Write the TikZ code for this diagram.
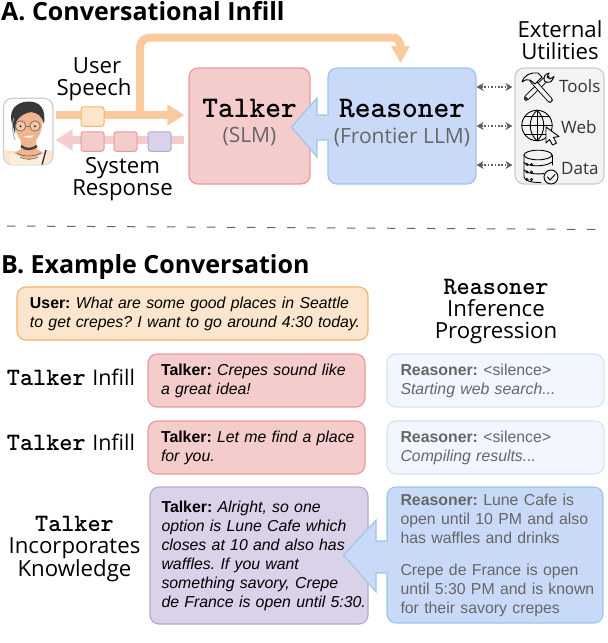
\documentclass[tikz,border=0pt]{standalone}
\usepackage{fontspec}
\setmainfont{Open Sans}
\newfontfamily\arialf{Liberation Sans}
\usetikzlibrary{arrows.meta,calc}
\definecolor{pinkfill}{HTML}{F4CCCC}
\definecolor{pinkline}{HTML}{EA9999}
\definecolor{bluefill}{HTML}{C9DAF8}
\definecolor{blueline}{HTML}{9FC5E8}
\definecolor{orangefill}{HTML}{FCE5CD}
\definecolor{orangeline}{HTML}{F6B26B}
\definecolor{orangearrow}{HTML}{F9CB9C}
\definecolor{purplefill}{HTML}{D9D2E9}
\definecolor{purpleline}{HTML}{B4A7D6}
\definecolor{palefill}{HTML}{F2F6FE}
\definecolor{paleline}{HTML}{D3E4F5}
\definecolor{utilfill}{HTML}{F3F3F3}
\definecolor{utilline}{HTML}{CCCCCC}
\definecolor{graytext}{HTML}{666666}
\definecolor{toolarrow}{HTML}{5F5F5F}
\definecolor{skin}{HTML}{F2B48C}
\frenchspacing
\newcommand{\monobig}[1]{{\ttfamily\bfseries\fontsize{30}{30}\selectfont #1}}
\newcommand{\monomid}[1]{{\ttfamily\bfseries\fontsize{25}{22}\selectfont #1}}
% one fixed line of message text; the box width never rewraps it
\newcommand{\msgline}[1]{\leavevmode\rlap{#1}}
\tikzset{
  x=1pt,y=-1pt,
  heading/.style={anchor=base west,inner sep=0pt,font=\bfseries\fontsize{25}{28}\selectfont},
  label/.style={align=center,inner sep=0pt,font=\fontsize{22.2}{22}\selectfont},
  bigbox/.style={draw,line width=1.2pt,rounded corners=9pt,inner sep=0pt,minimum height=116pt,align=center},
  talkerbox/.style={bigbox,fill=pinkfill,draw=pinkline,minimum width=121pt},
  reasonerbox/.style={bigbox,fill=bluefill,draw=blueline,minimum width=148pt},
  chip/.style={draw,line width=1pt,rounded corners=2.5pt,minimum width=23pt,minimum height=19.5pt,inner sep=0pt},
  say/.style={draw,line width=1.1pt,rounded corners=9pt,inner sep=0pt,align=left,
    font=\arialf\fontsize{15.85}{19}\selectfont},
  talksay/.style={say,fill=pinkfill,draw=pinkline,minimum width=217pt,minimum height=53pt,text width=191pt},
  palesay/.style={say,fill=palefill,draw=paleline,text=graytext,minimum width=217pt,minimum height=53pt,text width=190pt},
  toolarrowline/.style={{Stealth[length=7pt,width=8pt]}-{Stealth[length=7pt,width=8pt]},
    draw=toolarrow,line width=1.1pt,dash pattern=on 1.6pt off 1.8pt},
  icon/.style={line width=.9pt,draw=black,line cap=round,line join=round},
  utillabel/.style={anchor=west,inner sep=0pt,text=black!80,font=\fontsize{17}{18}\selectfont},
  subtitle/.style={inner sep=0pt,text=graytext,font=\fontsize{21}{22}\selectfont},
}
\begin{document}
\begin{tikzpicture}
\useasboundingbox (0,0) rectangle (608,643);

% section headings
\node[heading] (headA) at (1,20) {A. Conversational Infill};
\node[heading] (headB) at (1,273) {B. Example Conversation};

% main boxes
\node[talkerbox] (talker) at (249.5,126) {};
\node[inner sep=0pt] (talkername) at (249.5,108.5) {\monobig{Talker}};
\node[subtitle] (talkersub) at (249.5,137) {(SLM)};
\node[reasonerbox] (reasoner) at (402,126) {};

% avatar frame and portrait
\node[draw=utilline,line width=1.2pt,fill=white,rounded corners=9pt,minimum width=49.5pt,minimum height=66.5pt,inner sep=0pt] (avatar) at (28.2,131.5) {};
\begin{scope}
  \clip[rounded corners=8.5pt] (4,98.5) rectangle (52.5,164.5);
  \fill[orangefill] (4,150) .. controls (16,152) and (40,152) .. (52.5,150) -- (52.5,165) -- (4,165) -- cycle;
  \fill[orangefill!70!white] (10,154) -- (47,154) -- (47,165) -- (10,165) -- cycle;
  \fill[skin] (21,140) -- (36,140) -- (37,149) -- (43,153) -- (29,160) -- (14,153) -- (21,149) -- cycle;
  \draw[black!70,line width=.5pt] (17,153) .. controls (22,157) and (35,157) .. (41,153);
  \draw[black!70,line width=.5pt] (20,157) .. controls (25,160) and (33,160) .. (38,157);
  \fill[skin] (14,118) .. controls (14,132) and (20,144) .. (28,144) .. controls (37,144) and (43,132) .. (43,116) -- (38,108) -- (18,110) -- cycle;
  \fill[black!78] (13,126) .. controls (7,112) and (15,102) .. (28,101.5) .. controls (40,101.5) and (46,108) .. (44,124) .. controls (42,116) and (38,113) .. (31,112) .. controls (25,113) and (19,116) .. (16,122) -- (15,134) -- cycle;
  \draw[black!35,line width=.8pt] (14,118) .. controls (11,126) and (13,134) .. (15,140);
  \draw[black!75,line width=2.4pt] (21,146) .. controls (25,150) and (32,150) .. (37,146);
  \draw[black!55,line width=.8pt,fill=white,fill opacity=.25] (20.5,126) circle (5.2pt) (35,126) circle (5.2pt);
  \draw[black!55,line width=.8pt] (25.7,126) -- (29.8,126);
  \fill[black!80] (20.5,126.3) circle (1.1pt) (35,126.3) circle (1.1pt);
  \fill[white] (23,136) .. controls (27,138.5) and (31,138.5) .. (34,135.5) .. controls (31,135.5) and (27,136.5) .. cycle;
  \draw[black!80,line width=1.4pt] (46,150) -- (42,165);
\end{scope}

% user speech path and its branch to the reasoner
\coordinate (speechy) at (0,115);
\coordinate (replyy) at (0,140);
\coordinate (branch) at (140,115);
\coordinate (reasonertop) at (400.5,63);
\draw[orangearrow,line width=8pt,rounded corners=10pt] (branch) -- (140,37.5) -- (392,37.5);
\draw[orangearrow,line width=8pt] (392,37.5) .. controls (397,37.5) and (400.5,41) .. (400.5,47);
\fill[orangearrow] (reasonertop) -- (391,46) -- (410,46) -- cycle;
\draw[orangearrow,line width=8pt,-{Triangle[length=17pt,width=20pt]}] ([xshift=2pt]avatar.east |- speechy) -- ([xshift=-4pt]talker.west |- speechy);
\draw[pinkfill,line width=8pt,-{Triangle[length=17pt,width=20pt]}] ([xshift=-4pt]talker.west |- replyy) -- ([xshift=2pt]avatar.east |- replyy);

% message chips on the two paths
\node[chip,fill=orangefill,draw=orangeline] (chipuser) at (92.5,116.5) {};
\node[chip,fill=pinkfill,draw=pinkline] (chipa) at (92.5,141.5) {};
\node[chip,fill=pinkfill,draw=pinkline] (chipb) at (125.5,141.5) {};
\node[chip,fill=purplefill,draw=purpleline] (chipc) at (159.5,141.5) {};

\node[label] (userspeech) at (94,79) {\hspace*{6pt}User\\Speech};
\node[label] (sysresp) at (122.5,179.5) {System\\Response};

% reasoner feeds knowledge back to the talker
\coordinate (fbtip) at (291.5,127);
\filldraw[fill=bluefill,draw=blueline,line width=1.2pt,line join=miter]
  (reasoner.west |- 0,115) -- (317,115) -- (317,98) -- (fbtip) -- (317,157) -- (317,140) -- (reasoner.west |- 0,140);
\fill[bluefill] ([xshift=-1pt]reasoner.west |- 0,115.6) rectangle ([xshift=1.2pt]reasoner.west |- 0,139.4);
\node[inner sep=0pt] (reasonername) at (402,108.5) {\monobig{Reasoner}};
\node[subtitle] (reasonersub) at (402,137) {(Frontier LLM)};

% external utilities panel
\node[label] (exthead) at (560,40.5) {External\\Utilities};
\node[draw=utilline,fill=utilfill,line width=1.2pt,rounded corners=9pt,minimum width=89pt,minimum height=116pt,inner sep=0pt] (utils) at (559.5,126) {};
\draw[toolarrowline] (reasoner.east |- 0,87) -- ([xshift=-2pt]utils.west |- 0,87);
\draw[toolarrowline] (reasoner.east |- 0,126) -- ([xshift=-2pt]utils.west |- 0,126);
\draw[toolarrowline] (reasoner.east |- 0,165) -- ([xshift=-2pt]utils.west |- 0,165);

% tools icon: crossed hammer and spanner
\begin{scope}[line cap=round]
  \draw[black,line width=5.6pt] (527,97.5) -- (547,78);
  \draw[utilfill,line width=3.8pt] (527,97.5) -- (547,78);
  \draw[icon,fill=utilfill] (549,73) .. controls (545,74) and (543,77) .. (544.5,81) .. controls (547,83) and (551,83) .. (553,79) -- (554,76.5) -- (550,79) -- (547,77) -- cycle;
  \draw[icon,fill=utilfill] (526,99) circle (1.5pt);
  \draw[black,line width=5.6pt] (550,100) -- (532,80);
  \draw[utilfill,line width=3.8pt] (550,100) -- (532,80);
  \draw[icon,fill=utilfill] (522,82) .. controls (524,75) and (531,72) .. (538,73) -- (542,77) -- (535,84) -- (530,80) .. controls (527,79) and (524,80) .. (522,82) -- cycle;
\end{scope}
\node[utillabel] (toolstext) at (559,86) {Tools};

% web icon: globe with pointer
\draw[icon] (537,125.5) circle (15.2pt);
\draw[icon] (537,110.3) .. controls (528,118) and (528,133) .. (537,140.7);
\draw[icon] (537,110.3) .. controls (546,118) and (546,133) .. (537,140.7);
\draw[icon] (537,110.3) -- (537,140.7);
\draw[icon] (522,125.5) -- (552,125.5);
\draw[icon] (525,116.5) -- (549,116.5);
\draw[icon] (525,134.5) -- (546,134.5);
\draw[icon,fill=utilfill] (546,127) -- (559,136.5) -- (553.5,137.5) -- (556.5,143) -- (552.5,145) -- (549.5,139.5) -- (546,143) -- cycle;
\node[utillabel] (webtext) at (561,127) {Web};

% data icon: database cylinder with check badge
\draw[icon] (538,155) ellipse (14pt and 4.8pt);
\draw[icon] (524,155) -- (524,177) .. controls (525,181) and (531,182.5) .. (541,182.5);
\draw[icon] (552,155) -- (552,165);
\draw[icon] (524,162.5) .. controls (528,167) and (546,167) .. (552,162);
\draw[icon] (524,170) .. controls (528,174) and (537,174.5) .. (544,173.5);
\foreach \dy in {164.5,172,179.5} {
  \draw[line width=.8pt] (527,\dy) circle (1.1pt) (531.5,\dy) circle (1.1pt);
}
\draw[icon,fill=utilfill] (551,177) circle (7pt);
\draw[icon] (547.5,177) -- (550,180) -- (555,174.5);
\node[utillabel] (datatext) at (561,169) {Data};

% section divider
\coordinate (divl) at (7,226);
\coordinate (divr) at (604,229.5);
\draw[black!60,line width=1pt,dash pattern=on 8.5pt off 11.5pt] (divl) -- (divr);

% example conversation
\node[say,fill=orangefill,draw=orangeline,minimum width=351pt,minimum height=53pt,text width=325pt] (usermsg) at (192.5,313.5)
  {\msgline{\textbf{User:} \textit{What are some good places in Seattle}}\\\msgline{\textit{to get crepes? I want to go around 4:30 today.}}};
\node[talksay] (talkone) at (256.5,380.5)
  {\msgline{\textbf{Talker:} \textit{Crepes sound like}}\\\msgline{\textit{a great idea!}}};
\node[talksay] (talktwo) at (256.5,447.5)
  {\msgline{\textbf{Talker:} \textit{Let me find a place}}\\\msgline{\textit{for you.}}};
\node[say,fill=purplefill,draw=purpleline,minimum width=218pt,minimum height=137pt,text width=195pt] (talkthree) at (259,555.5)
  {\msgline{\textbf{Talker:} \textit{Alright, so one}}\\\msgline{\textit{option is Lune Cafe which}}\\\msgline{\textit{closes at 10 and also has}}\\\msgline{\textit{waffles. If you want}}\\\msgline{\textit{something savory, Crepe}}\\\msgline{\textit{de France is open until 5:30.}}};

\node[palesay] (reasone) at (495.5,380.5)
  {\msgline{\textbf{Reasoner:} <silence>}\\\msgline{\textit{Starting web search...}}};
\node[palesay] (reastwo) at (495.5,447.5)
  {\msgline{\textbf{Reasoner:} <silence>}\\\msgline{\textit{Compiling results...}}};
\node[say,fill=bluefill,draw=blueline,text=graytext,minimum width=216pt,minimum height=136pt,text width=189pt] (reasthree) at (495,555)
  {\msgline{\textbf{Reasoner:} Lune Cafe is}\\\msgline{open until 10 PM and also}\\\msgline{has waffles and drinks}\\[13pt]\msgline{Crepe de France is open}\\\msgline{until 5:30 PM and is known}\\\msgline{for their savory crepes}};

% knowledge arrow between the last two messages
\coordinate (kntip) at (343.5,555);
\filldraw[fill=bluefill,draw=blueline,line width=1.1pt,line join=miter]
  (reasthree.west |- 0,541) -- (376,541) -- (376,520) -- (kntip) -- (376,592) -- (376,573) -- (reasthree.west |- 0,573);
\fill[bluefill] ([xshift=-1pt]reasthree.west |- 0,541.6) rectangle ([xshift=1.2pt]reasthree.west |- 0,572.4);

% row labels
\node[inner sep=0pt,anchor=base] (rowone) at (71,385.5) {\monomid{Talker}\hspace{4pt} {\fontsize{21.5}{22}\selectfont Infill}};
\node[inner sep=0pt,anchor=base] (rowtwo) at (71,450) {\monomid{Talker}\hspace{4pt} {\fontsize{21.5}{22}\selectfont Infill}};
\node[label] (rowthree) at (74.5,549) {\monomid{Talker}\\Incorporates\\Knowledge};
\node[label] (progress) at (496,311.5) {\monomid{Reasoner}\\Inference\\Progression};
\end{tikzpicture}
\end{document}
